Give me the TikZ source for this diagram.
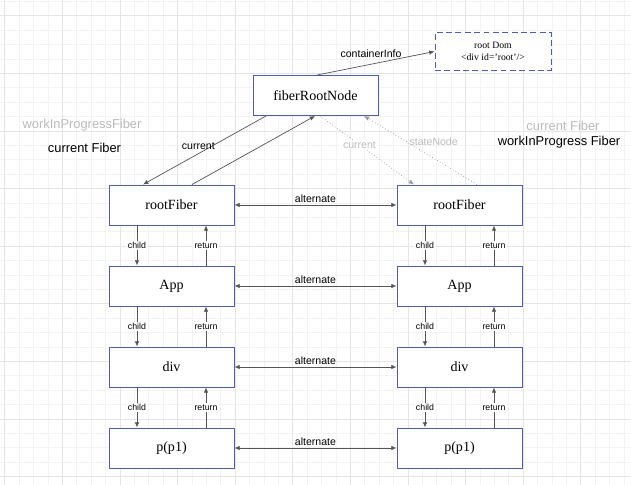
\documentclass[tikz,border=0pt]{standalone}
\usepackage{fontspec}
\setmainfont{Liberation Serif}
\setsansfont{Liberation Sans}
\usetikzlibrary{arrows.meta, positioning}

\definecolor{boxblue}{HTML}{4C5DB5}
\definecolor{linegray}{HTML}{555555}
\definecolor{dotgray}{HTML}{999999}
\definecolor{labelgray}{HTML}{BBBBBB}
\definecolor{gridminor}{HTML}{F3F3F3}
\definecolor{gridmajor}{HTML}{E5E5E5}

\tikzset{
  fiber/.style={draw=boxblue, line width=0.8pt, fill=white, minimum width=3.75cm,
    minimum height=1.2cm, inner sep=0pt, font=\fontsize{12}{14}\selectfont},
  domnode/.style={draw=boxblue, line width=0.8pt, dash pattern=on 5pt off 3pt, fill=white,
    minimum width=3.48cm, minimum height=1.14cm, inner sep=0pt, align=center,
    font=\fontsize{8.3}{10}\selectfont},
  link/.style={draw=linegray, line width=0.6pt, -{Latex[length=4.5pt,width=3.8pt]}},
  twoway/.style={draw=linegray, line width=0.6pt, {Latex[length=4.5pt,width=3.8pt]}-{Latex[length=4.5pt,width=3.8pt]}},
  ghost/.style={draw=dotgray, line width=0.6pt, dotted, -{Latex[length=4.5pt,width=3.8pt]}},
  small/.style={font=\sffamily\fontsize{7.5}{9}\selectfont, fill=white, inner sep=1pt},
  tag/.style={font=\sffamily\fontsize{9}{10}\selectfont, inner sep=1pt},
  title/.style={font=\sffamily\fontsize{11}{13}\selectfont, inner sep=0pt}
}

\begin{document}
\begin{tikzpicture}[x=0.03cm, y=-0.03cm, node distance=2.43cm, on grid]
    \useasboundingbox (0,0) rectangle (631,485);
    \fill[white] (0,0) rectangle (631,485);

    % background grid
    \foreach \i in {0,...,43}
        \draw[gridminor, line width=0.5pt] ({4.7+14.4*\i},0) -- ({4.7+14.4*\i},485);
    \foreach \j in {0,...,33}
        \draw[gridminor, line width=0.5pt] (0,{1.3+14.4*\j}) -- (631,{1.3+14.4*\j});
    \foreach \i in {0,...,10}
        \draw[gridmajor, line width=0.5pt] ({4.7+57.6*\i},0) -- ({4.7+57.6*\i},485);
    \foreach \j in {0,...,8}
        \draw[gridmajor, line width=0.5pt] (0,{15.7+57.6*\j}) -- (631,{15.7+57.6*\j});

    % boxes
    \node (frn) [fiber] at (315.5,95.5) {fiberRootNode};
    \node (rootDom) [domnode] at (493,51.5) {root Dom\\<div id='root'/>};

    \node (rootA) [fiber] at (171.5,205) {rootFiber};
    \node (appA) [fiber, below=of rootA] {App};
    \node (divA) [fiber, below=of appA] {div};
    \node (pA) [fiber, below=of divA] {p(p1)};

    \node (rootB) [fiber, right=8.64cm of rootA] {rootFiber};
    \node (appB) [fiber, right=8.64cm of appA] {App};
    \node (divB) [fiber, right=8.64cm of divA] {div};
    \node (pB) [fiber, right=8.64cm of pA] {p(p1)};

    % side titles
    \node (wipL) [title, text=labelgray] at (82,125) {workInProgressFiber};
    \node (curL) [title] at (84.5,148) {current Fiber};
    \node (curR) [title, text=labelgray] at (563,125.5) {current Fiber};
    \node (wipR) [title] at (559,142) {workInProgress Fiber};

    % root links
    \path ([xshift=0.045cm]frn.north) edge [link] node [tag, pos=0.46, above=4pt] {containerInfo} (rootDom.west);
    \path ([xshift=-1.485cm]frn.south) edge [link] node [tag, pos=0.55, above=2pt] {current} ([xshift=-0.855cm]rootA.north);
    \path ([xshift=0.615cm]rootA.north) edge [link] ([xshift=-0.015cm]frn.south);
    \path ([xshift=0.135cm]frn.south) edge [ghost] node [tag, text=labelgray, fill=white, pos=0.42] {current} ([xshift=-1.365cm]rootB.north);
    \path ([xshift=0.525cm]rootB.north) edge [ghost] node [tag, text=labelgray, pos=0.62, right=1pt] {stateNode} ([xshift=1.455cm]frn.south);

    % alternate
    \foreach \a/\b in {rootA/rootB, appA/appB, divA/divB, pA/pB}
        \path (\a) edge [twoway] node [tag, above=1pt] {alternate} (\b);

    % child / return
    \foreach \up/\down in {rootA/appA, appA/divA, divA/pA, rootB/appB, appB/divB, divB/pB} {
        \path ([xshift=-1.035cm]\up.south) edge [link] node [small] {child} ([xshift=-1.035cm]\down.north);
        \path ([xshift=1.035cm]\down.north) edge [link] node [small] {return} ([xshift=1.035cm]\up.south);
    }
\end{tikzpicture}
\end{document}
